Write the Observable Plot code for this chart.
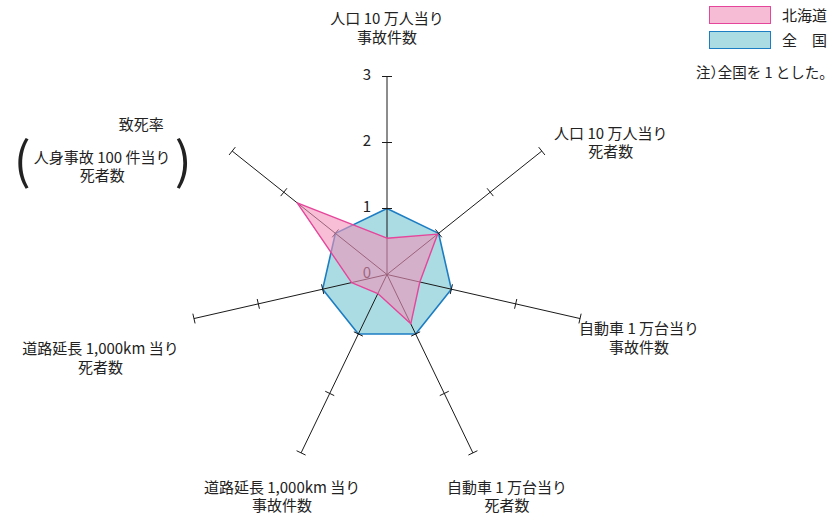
<!DOCTYPE html>
<html><head><meta charset="utf-8">
<script src="https://cdn.jsdelivr.net/npm/d3@7"></script>
<script src="https://cdn.jsdelivr.net/npm/@observablehq/plot@0.6"></script>
<style>
body{margin:0;background:#fff;font-family:"Noto Sans CJK JP",sans-serif;}
#wrap{position:relative;width:833px;height:513px;overflow:hidden;}
.lg{position:absolute;font-size:15px;color:#222;white-space:nowrap;line-height:18px;}
.note{font-feature-settings:"halt";font-size:14.5px;}
.sw{position:absolute;width:62px;height:18px;box-sizing:border-box;border-width:1.5px;border-style:solid;}
</style></head><body><div id="wrap"></div>
<script>
// ---- data ----
const categories = [
  "人口 10 万人当り\n事故件数",
  "人口 10 万人当り\n死者数",
  "自動車 1 万台当り\n事故件数",
  "自動車 1 万台当り\n死者数",
  "道路延長 1,000km 当り\n事故件数",
  "道路延長 1,000km 当り\n死者数",
  "致死率"
];
const categoryNote = "人身事故 100 件当り\n死者数";
const hokkaido = [0.55, 0.98, 0.51, 0.83, 0.32, 0.55, 1.74];
const zenkoku = [1, 1, 1, 1, 1, 1, 1];
const tickValues = [1, 2, 3];
const tickLabels = ["0", "1", "2", "3"];
const seriesNames = ["北海道", "全　国"];
const noteText = "注）全国を 1 とした。";

// ---- layout ----
const W = 833, H = 513, cx = 386.5, cy = 274, unit = 66, rMax = 3;
const n = categories.length;
const ang = i => i * 2 * Math.PI / n;
const px = (i, r) => r * Math.sin(ang(i));
const py = (i, r) => r * Math.cos(ang(i));
// label offsets (pixels) from each axis end
const labelOffset = [[0, -49], [69, -9], [59, 19], [34, 43], [-19, 43], [-93.5, 39], [-91, -27.5]];
const noteOffset = [-130, 15.5];
const tickHalf = 5 / unit;
const font = "Noto Sans CJK JP";

const axes = categories.map((c, i) => ({i, c}));
const tickRows = axes.flatMap(a => tickValues.map(v => ({i: a.i, v})));
const poly = arr => arr.map((v, i) => ({i, v}));
const lx = (i, o) => px(i, rMax) + o[0] / unit;
const ly = (i, o) => py(i, rMax) - o[1] / unit;

const colors = {hk: {fill: "#f293bb", stroke: "#e5459a"}, zk: {fill: "#abdce3", stroke: "#1c7dc3"}};

const chart = Plot.plot({
  width: W, height: H,
  margin: 0,
  x: {domain: [-cx / unit, (W - cx) / unit], axis: null},
  y: {domain: [-(H - cy) / unit, cy / unit], axis: null},
  style: {fontFamily: font, background: "transparent"},
  marks: [
    Plot.line(poly(zenkoku), {x: d => px(d.i, d.v), y: d => py(d.i, d.v), curve: "linear-closed",
      fill: colors.zk.fill, stroke: colors.zk.stroke, strokeWidth: 1.6}),
    Plot.link(axes, {x1: 0, y1: 0, x2: d => px(d.i, rMax), y2: d => py(d.i, rMax), stroke: "#1a1a1a", strokeWidth: 1}),
    Plot.link(tickRows, {
      x1: d => px(d.i, d.v) + tickHalf * Math.cos(ang(d.i)), y1: d => py(d.i, d.v) - tickHalf * Math.sin(ang(d.i)),
      x2: d => px(d.i, d.v) - tickHalf * Math.cos(ang(d.i)), y2: d => py(d.i, d.v) + tickHalf * Math.sin(ang(d.i)),
      stroke: "#1a1a1a", strokeWidth: 1}),
    Plot.text(tickLabels, {x: 0, y: (d, i) => i, text: d => d, dx: -16, dy: -1, textAnchor: "end", fontSize: 15, fill: "#222"}),
    Plot.line(poly(hokkaido), {x: d => px(d.i, d.v), y: d => py(d.i, d.v), curve: "linear-closed",
      fill: colors.hk.fill, fillOpacity: 0.6, stroke: colors.hk.stroke, strokeWidth: 1.4}),
    Plot.text(axes, {x: d => lx(d.i, labelOffset[d.i]), y: d => ly(d.i, labelOffset[d.i]), text: d => d.c,
      fontSize: 15, lineHeight: 1.25, lineAnchor: "middle", textAnchor: "middle", fill: "#222"}),
    Plot.text([categoryNote], {x: lx(6, noteOffset), y: ly(6, noteOffset), text: d => d,
      fontSize: 15, lineHeight: 1.2, lineAnchor: "middle", textAnchor: "middle", fill: "#222"}),
    Plot.text(["(", ")"], {x: (d, i) => lx(6, noteOffset) + (i ? 81 : -80) / unit, y: ly(6, noteOffset) + 4 / unit,
      text: d => d, fontSize: 50, fontWeight: 400, lineAnchor: "middle", textAnchor: "middle", fill: "#222"})
  ]
});
const wrap = document.getElementById("wrap");
wrap.appendChild(chart);

// ---- legend (HTML) ----
const legendItems = [[seriesNames[0], colors.hk], [seriesNames[1], colors.zk]];
legendItems.forEach(([name, c], k) => {
  const sw = document.createElement("div");
  sw.className = "sw";
  sw.style.left = "709px"; sw.style.top = (6 + k * 25) + "px";
  sw.style.background = k === 0 ? "#f7bcd5" : c.fill; sw.style.borderColor = c.stroke;
  wrap.appendChild(sw);
  const t = document.createElement("div");
  t.className = "lg"; t.textContent = name;
  t.style.left = "782px"; t.style.top = (6 + k * 25) + "px";
  wrap.appendChild(t);
});
const note = document.createElement("div");
note.className = "lg note"; note.textContent = noteText;
note.style.left = "696px"; note.style.top = "63px";
wrap.appendChild(note);
</script>
</body></html>
